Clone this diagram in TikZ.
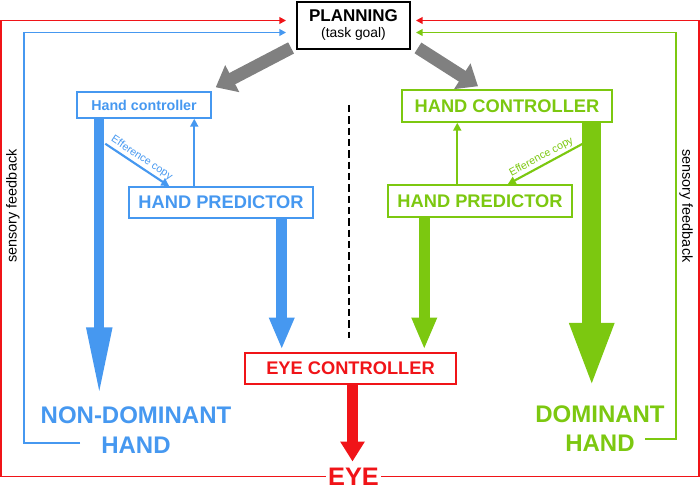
\documentclass[tikz,border=0pt]{standalone}
\usepackage{fontspec}
\setmainfont{Liberation Sans}
\usetikzlibrary{arrows.meta}
\definecolor{handblue}{RGB}{70,152,240}
\definecolor{handgreen}{RGB}{124,200,16}
\definecolor{eyered}{RGB}{240,20,24}
\definecolor{plangray}{RGB}{128,128,128}
\begin{document}
\begin{tikzpicture}[
        x=0.75pt, y=-0.75pt,
        planbox/.style={rectangle, draw=black, line width=1.4pt, inner sep=0pt, minimum width=84.75pt, minimum height=35.25pt, align=center, font=\fontsize{12.75}{12}\selectfont\bfseries},
        ctrlbox/.style={rectangle, draw, line width=1.1pt, inner sep=0pt, align=center, font=\fontsize{13.7}{16}\selectfont\bfseries},
        bigtext/.style={inner sep=0pt, align=center, font=\fontsize{18}{22}\selectfont\bfseries},
        fbtext/.style={inner sep=0pt, font=\fontsize{10.8}{12}\selectfont},
        efftext/.style={midway, sloped, above, inner sep=1.5pt, font=\fontsize{8}{9}\selectfont},
        goalarrow/.style={-{Triangle[length=14pt, width=22pt]}, line width=9.5pt, plangray},
        thinarrow/.style={-{Triangle[length=6pt, width=6pt]}, line width=1.6pt},
        fbline/.style={-{Triangle[length=5pt, width=5pt]}, line width=1.3pt}
    ]
    \useasboundingbox (0,0) rectangle (700,488);

    % Planning
    \node[planbox] (plan) at (353.5, 25.5) {PLANNING\\{\fontsize{10.4}{12}\selectfont\mdseries (task goal)}};

    % Non-dominant side
    \node[ctrlbox, draw=handblue, text=handblue, minimum width=100.5pt, minimum height=19.5pt, font=\fontsize{10.7}{12}\selectfont\bfseries] (hcl) at (144, 105) {Hand controller};
    \node[ctrlbox, draw=handblue, text=handblue, minimum width=138pt, minimum height=23.25pt] (hpl) at (221, 202.5) {HAND PREDICTOR};
    \node[bigtext, text=handblue] (ndh) at (136, 430) {NON-DOMINANT\\HAND};

    % Dominant side
    \node[ctrlbox, draw=handgreen, text=handgreen, minimum width=157.5pt, minimum height=24pt] (hcr) at (507, 106) {HAND CONTROLLER};
    \node[ctrlbox, draw=handgreen, text=handgreen, minimum width=138pt, minimum height=24pt] (hpr) at (480, 201) {HAND PREDICTOR};
    \node[bigtext, text=handgreen] (dh) at (600, 428.5) {DOMINANT\\HAND};

    % Eye
    \node[ctrlbox, draw=eyered, text=eyered, minimum width=158.25pt, minimum height=23.25pt] (eyec) at (350.5, 368.5) {EYE CONTROLLER};
    \node[inner xsep=1.5pt, inner ysep=0pt, font=\fontsize{19}{22}\selectfont\bfseries, text=eyered] (eye) at (353.5, 476.5) {EYE};

    % Feedback labels
    \node[fbtext, rotate=90] (fbl) at (13, 206) {sensory feedback};
    \node[fbtext, rotate=-90] (fbr) at (686, 206) {sensory feedback};

    % Divider
    \coordinate (divtop) at (349, 105);
    \coordinate (divbot) at (349, 338);
    \draw[line width=1.5pt, dash pattern=on 5.5pt off 3pt] (divtop) -- (divbot);

    % Goal arrows
    \draw[goalarrow] ([shift={(-5,-2)}]plan.south west) -- ([shift={(4,-4)}]hcl.north east);
    \draw[goalarrow] ([shift={(7,-2)}]plan.south east) -- ([shift={(-29,-3)}]hcr.north);

    % Non-dominant arrows
    \draw[handblue, line width=7.5pt, -{Triangle[length=52pt, width=17.5pt]}, shorten >=7.5pt] ([shift={(23,0)}]hcl.south west) -- ([shift={(23,0)}]hcl.south west |- ndh.north);
    \draw[handblue, line width=8pt, -{Triangle[length=24pt, width=17.5pt]}, shorten >=2pt] ([shift={(-32,0)}]hpl.south east) -- ([shift={(-32,0)}]hpl.south east |- eyec.north);
    \draw[thinarrow, handblue] ([shift={(66,0)}]hpl.north west) -- ([shift={(66,0)}]hpl.north west |- hcl.south);
    \draw[thinarrow, handblue] ([shift={(29,25)}]hcl.south west) -- ([shift={(41,0)}]hpl.north west) node[efftext, text=handblue] {Efference copy};

    % Dominant arrows
    \draw[handgreen, line width=14pt, -{Triangle[length=49pt, width=30pt]}, shorten >=12.75pt] ([shift={(-21,0)}]hcr.south east) -- ([shift={(-21,0)}]hcr.south east |- dh.north);
    \draw[handgreen, line width=8pt, -{Triangle[length=24pt, width=17.5pt]}, shorten >=2pt] ([shift={(37,0)}]hpr.south west) -- ([shift={(37,0)}]hpr.south west |- eyec.north);
    \draw[thinarrow, handgreen] ([shift={(70,0)}]hpr.north west) -- ([shift={(70,0)}]hpr.north west |- hcr.south);
    \draw[thinarrow, handgreen] ([shift={(-30,21)}]hcr.south east) -- ([shift={(-65,0)}]hpr.north east) node[efftext, text=handgreen] {Efference copy};

    % Eye arrow
    \draw[eyered, line width=8pt, -{Triangle[length=15pt, width=17.5pt]}, shorten >=4.5pt] ([shift={(2,0)}]eyec.south) -- ([shift={(2,0)}]eyec.south |- eye.north);

    % Sensory feedback loops
    \draw[fbline, eyered] (eye.west) -| ([shift={(-295,-5)}]plan.west) -- ([shift={(-10,-5)}]plan.west);
    \draw[fbline, eyered] (eye.east) -| ([shift={(288,-5)}]plan.east) -- ([shift={(5,-5)}]plan.east);
    \draw[fbline, handblue] ([shift={(-56,-10)}]ndh.south) -| ([shift={(-272,7)}]plan.west) -- ([shift={(-10,7)}]plan.west);
    \draw[fbline, handgreen] ([shift={(45,-13)}]dh.south) -| ([shift={(265,7)}]plan.east) -- ([shift={(5,7)}]plan.east);

\end{tikzpicture}
\end{document}
